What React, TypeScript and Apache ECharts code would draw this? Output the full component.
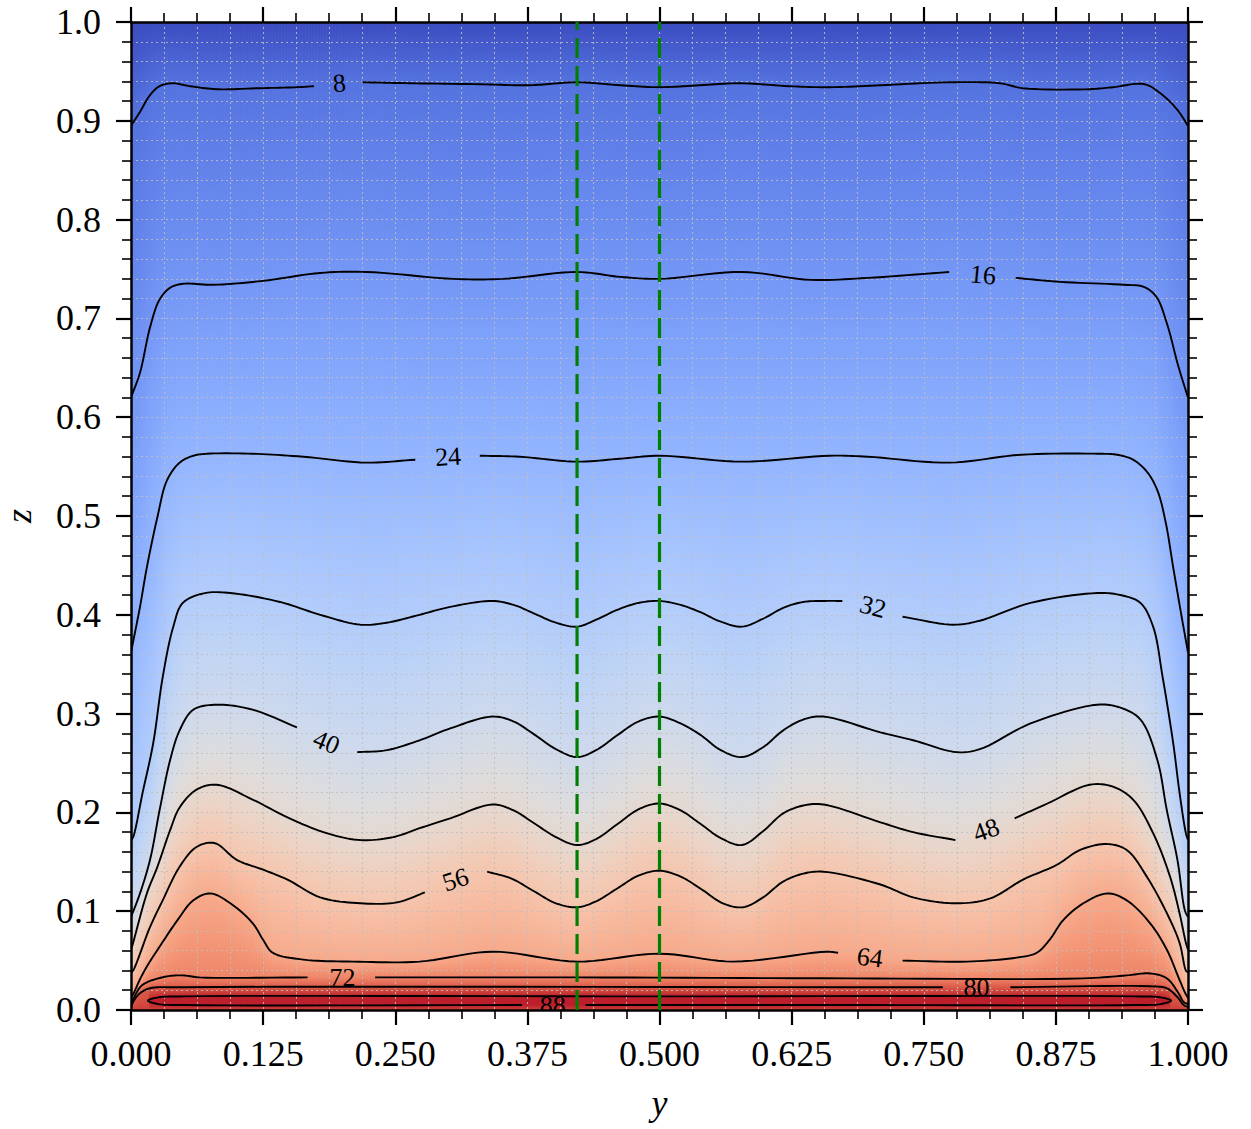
import React, { useEffect, useRef } from "react";
import * as echarts from "echarts";

// ---------------- data (y, z) ----------------
const LEVELS = [8, 16, 24, 32, 40, 48, 56, 64, 72, 80, 88];
const T_TOP = 0;
const T_BOTTOM = 84;
const VMAX = 90;

const c8 = [
  [[0, 0.895], [0.0085, 0.909], [0.018, 0.926], [0.027, 0.935], [0.039, 0.938], [0.056, 0.935], [0.081, 0.932], [0.122, 0.933], [0.157, 0.934], [0.173, 0.935]],
  [[0.219, 0.939], [0.264, 0.938], [0.33, 0.937], [0.377, 0.936], [0.422, 0.939], [0.463, 0.936], [0.5, 0.934], [0.538, 0.936], [0.576, 0.938], [0.623, 0.935], [0.661, 0.934], [0.709, 0.936], [0.775, 0.939], [0.822, 0.938], [0.844, 0.933], [0.907, 0.932], [0.929, 0.934], [0.959, 0.937], [0.976, 0.926], [0.99, 0.911], [1, 0.895]],
];
const c16 = [
  [[0, 0.62], [0.0085, 0.645], [0.018, 0.691], [0.027, 0.719], [0.037, 0.731], [0.049, 0.735], [0.078, 0.734], [0.125, 0.738], [0.179, 0.746], [0.223, 0.747], [0.305, 0.74], [0.352, 0.74], [0.422, 0.747], [0.463, 0.742], [0.5, 0.74], [0.578, 0.747], [0.643, 0.739], [0.697, 0.741], [0.774, 0.747]],
  [[0.837, 0.741], [0.879, 0.737], [0.94, 0.734], [0.958, 0.732], [0.97, 0.722], [0.98, 0.695], [0.991, 0.651], [1, 0.62]],
];
const c24 = [
  [[0, 0.362], [0.0085, 0.408], [0.015, 0.448], [0.025, 0.499], [0.034, 0.536], [0.046, 0.554], [0.059, 0.561], [0.072, 0.563], [0.115, 0.563], [0.163, 0.56], [0.223, 0.554], [0.269, 0.557]],
  [[0.33, 0.561], [0.368, 0.56], [0.422, 0.555], [0.463, 0.558], [0.5, 0.561], [0.578, 0.555], [0.661, 0.561], [0.697, 0.56], [0.774, 0.554], [0.842, 0.562], [0.915, 0.563], [0.933, 0.562], [0.948, 0.557], [0.961, 0.545], [0.971, 0.526], [0.979, 0.493], [0.986, 0.448], [0.994, 0.398], [1, 0.362]],
];
const c32 = [
  [[0, 0.172], [0.002, 0.175], [0.011, 0.22], [0.021, 0.27], [0.03, 0.337], [0.04, 0.388], [0.049, 0.412], [0.07, 0.422], [0.094, 0.422], [0.141, 0.413], [0.179, 0.4], [0.217, 0.39], [0.242, 0.392], [0.273, 0.4], [0.302, 0.408], [0.342, 0.414], [0.362, 0.41], [0.38, 0.402], [0.402, 0.392], [0.422, 0.388], [0.44, 0.395], [0.46, 0.405], [0.48, 0.412], [0.5, 0.414], [0.52, 0.41], [0.538, 0.403], [0.558, 0.393], [0.578, 0.388], [0.598, 0.396], [0.617, 0.407], [0.636, 0.413], [0.655, 0.414], [0.673, 0.414]],
  [[0.73, 0.398], [0.778, 0.39], [0.803, 0.394], [0.851, 0.412], [0.914, 0.422], [0.936, 0.42], [0.955, 0.412], [0.967, 0.388], [0.976, 0.337], [0.986, 0.27], [0.992, 0.22], [0.998, 0.179], [1, 0.172]],
];
const c40 = [
  [[0, 0.094], [0.0085, 0.118], [0.018, 0.152], [0.027, 0.202], [0.037, 0.253], [0.046, 0.283], [0.059, 0.304], [0.081, 0.309], [0.115, 0.304], [0.157, 0.286]],
  [[0.214, 0.261], [0.242, 0.263], [0.273, 0.273], [0.302, 0.285], [0.342, 0.297], [0.362, 0.292], [0.38, 0.28], [0.402, 0.264], [0.422, 0.256], [0.44, 0.263], [0.46, 0.278], [0.48, 0.292], [0.5, 0.297], [0.52, 0.29], [0.538, 0.279], [0.558, 0.263], [0.578, 0.256], [0.598, 0.266], [0.617, 0.283], [0.636, 0.294], [0.655, 0.297], [0.709, 0.281], [0.74, 0.273], [0.781, 0.261], [0.803, 0.264], [0.851, 0.29], [0.914, 0.309], [0.936, 0.306], [0.955, 0.294], [0.971, 0.253], [0.98, 0.202], [0.99, 0.152], [0.997, 0.101], [1, 0.094]],
];
const c48 = [
  [[0, 0.061], [0.002, 0.068], [0.015, 0.118], [0.025, 0.145], [0.037, 0.182], [0.046, 0.205], [0.062, 0.223], [0.081, 0.228], [0.115, 0.213], [0.148, 0.195], [0.185, 0.179], [0.217, 0.172], [0.248, 0.175], [0.273, 0.184], [0.302, 0.194], [0.342, 0.208], [0.362, 0.202], [0.38, 0.19], [0.402, 0.175], [0.422, 0.167], [0.44, 0.173], [0.46, 0.188], [0.48, 0.203], [0.5, 0.209], [0.52, 0.202], [0.538, 0.189], [0.558, 0.174], [0.578, 0.167], [0.598, 0.181], [0.617, 0.199], [0.636, 0.207], [0.655, 0.208], [0.709, 0.19], [0.74, 0.18], [0.78, 0.172]],
  [[0.836, 0.194], [0.867, 0.209], [0.907, 0.228], [0.929, 0.226], [0.948, 0.213], [0.967, 0.179], [0.983, 0.135], [0.992, 0.098], [0.998, 0.068], [1, 0.061]],
];
const c56 = [
  [[0, 0.038], [0.002, 0.04], [0.018, 0.084], [0.03, 0.111], [0.046, 0.145], [0.062, 0.165], [0.079, 0.169], [0.1, 0.152], [0.125, 0.142], [0.148, 0.132], [0.179, 0.114], [0.217, 0.108], [0.252, 0.109], [0.278, 0.119]],
  [[0.337, 0.14], [0.36, 0.133], [0.38, 0.121], [0.402, 0.108], [0.422, 0.104], [0.44, 0.11], [0.46, 0.123], [0.48, 0.136], [0.5, 0.141], [0.52, 0.135], [0.54, 0.122], [0.56, 0.108], [0.579, 0.104], [0.598, 0.114], [0.617, 0.13], [0.636, 0.138], [0.655, 0.14], [0.709, 0.127], [0.74, 0.114], [0.781, 0.108], [0.813, 0.113], [0.844, 0.132], [0.876, 0.147], [0.898, 0.162], [0.923, 0.168], [0.942, 0.162], [0.961, 0.135], [0.98, 0.098], [0.992, 0.068], [0.998, 0.04], [1, 0.038]],
];
const c64 = [
  [[0, 0.012], [0.003, 0.018], [0.008, 0.03], [0.015, 0.044], [0.027, 0.064], [0.044, 0.091], [0.059, 0.111], [0.075, 0.118], [0.094, 0.108], [0.115, 0.088], [0.125, 0.071], [0.134, 0.058], [0.163, 0.051], [0.21, 0.049], [0.273, 0.049], [0.342, 0.059], [0.422, 0.049], [0.5, 0.057], [0.57, 0.049], [0.658, 0.059], [0.669, 0.058]],
  [[0.73, 0.05], [0.791, 0.049], [0.838, 0.053], [0.857, 0.058], [0.869, 0.071], [0.882, 0.091], [0.901, 0.108], [0.924, 0.118], [0.942, 0.111], [0.964, 0.088], [0.98, 0.061], [0.991, 0.033], [0.997, 0.018], [1, 0.012]],
];
const c72 = [
  [[0, 0.006], [0.004, 0.015], [0.0085, 0.023], [0.015, 0.028], [0.034, 0.034], [0.049, 0.035], [0.065, 0.033], [0.167, 0.033]],
  [[0.231, 0.033], [0.422, 0.033], [0.68, 0.032], [0.901, 0.032], [0.942, 0.035], [0.964, 0.037], [0.98, 0.032], [0.991, 0.017], [0.996, 0.008], [1, 0.006]],
];
const c80 = [
  [[0, 0.003], [0.003, 0.01], [0.0085, 0.017], [0.018, 0.022], [0.049, 0.023], [0.768, 0.023]],
  [[0.832, 0.023], [0.964, 0.024], [0.98, 0.022], [0.99, 0.013], [0.996, 0.005], [1, 0.003]],
];
// closed loop; the gap for its label lies between the last and first point
const c88 = [
  [[0.43, 0.005], [0.7, 0.005], [0.95, 0.005], [0.974, 0.006], [0.984, 0.0095], [0.974, 0.0128], [0.95, 0.0138], [0.5, 0.0138], [0.05, 0.0138], [0.026, 0.0128], [0.016, 0.0095], [0.026, 0.006], [0.05, 0.005], [0.37, 0.005]],
];
const CONTOURS = [c8, c16, c24, c32, c40, c48, c56, c64, c72, c80, c88];
const CLOSED = [false, false, false, false, false, false, false, false, false, false, true];

// label positions (y, z) and rotation (rad)
const LABEL_POS = [
  [0.197, 0.938], [0.806, 0.744], [0.3, 0.56], [0.702, 0.408], [0.185, 0.271], [0.809, 0.182],
  [0.307, 0.132], [0.699, 0.053], [0.2, 0.033], [0.8, 0.023], [0.399, 0.005],
];
const LABEL_ROT = [0.08, -0.09, 0.06, -0.26, -0.39, 0.35, 0.31, -0.12, 0, 0, 0];

const GUIDE_Y = [0.422, 0.5];

const X_TICKS = [0, 0.125, 0.25, 0.375, 0.5, 0.625, 0.75, 0.875, 1];
const Z_TICKS = [0, 0.1, 0.2, 0.3, 0.4, 0.5, 0.6, 0.7, 0.8, 0.9, 1];

// coolwarm colour map (Moreland), 33 samples
const COOLWARM = [
  [59, 76, 192], [68, 90, 204], [77, 104, 215], [87, 117, 225], [98, 130, 234], [108, 142, 241], [119, 154, 247], [130, 165, 251],
  [141, 176, 254], [152, 185, 255], [163, 194, 255], [174, 201, 253], [184, 208, 249], [194, 213, 244], [204, 217, 238], [213, 219, 230],
  [221, 221, 221], [229, 216, 209], [236, 211, 197], [241, 204, 184], [245, 196, 172], [247, 187, 160], [247, 177, 148], [247, 166, 135],
  [244, 154, 123], [241, 141, 111], [236, 127, 99], [229, 112, 88], [222, 96, 77], [213, 80, 66], [203, 62, 56], [192, 40, 47], [180, 4, 38],
];

function cmap(T: number): string {
  let t = T / VMAX;
  t = Math.max(0, Math.min(1, t));
  const f = t * (COOLWARM.length - 1);
  const i = Math.min(COOLWARM.length - 2, Math.floor(f));
  const u = f - i;
  const a = COOLWARM[i], b = COOLWARM[i + 1];
  const c = [0, 1, 2].map((k) => Math.round(a[k] + (b[k] - a[k]) * u));
  return `rgb(${c[0]},${c[1]},${c[2]})`;
}

const NCOL = 352;

function columnStops(yc: number) {
  const pts: number[][] = [[1, T_TOP], [0, T_BOTTOM]];
  CONTOURS.forEach((segs, ci) => {
    const poly = ([] as number[][]).concat(...segs);
    const n = CLOSED[ci] ? poly.length : poly.length - 1;
    for (let k = 0; k < n; k++) {
      const a = poly[k], b = poly[(k + 1) % poly.length];
      if (a[0] === b[0]) continue;
      const lo = Math.min(a[0], b[0]), hi = Math.max(a[0], b[0]);
      if (yc < lo || yc >= hi) continue;
      const t = (yc - a[0]) / (b[0] - a[0]);
      pts.push([a[1] + t * (b[1] - a[1]), LEVELS[ci]]);
    }
  });
  pts.sort((p, q) => q[0] - p[0]);
  const stops: { offset: number; color: string }[] = [];
  const SUB = 3;
  for (let k = 0; k < pts.length - 1; k++) {
    const [z1, T1] = pts[k];
    const [z2, T2] = pts[k + 1];
    for (let s = 0; s < SUB; s++) {
      const u = s / SUB;
      stops.push({ offset: Math.min(1, Math.max(0, 1 - (z1 + (z2 - z1) * u))), color: cmap(T1 + (T2 - T1) * u) });
    }
  }
  const last = pts[pts.length - 1];
  stops.push({ offset: 1 - last[0], color: cmap(last[1]) });
  return stops;
}

// centripetal Catmull-Rom through pixel points (rendering only)
function smoothPath(P: number[][], steps = 10): number[][] {
  if (P.length < 3) return P;
  const out: number[][] = [];
  const dist = (a: number[], b: number[]) => Math.max(1e-4, Math.pow(Math.hypot(b[0] - a[0], b[1] - a[1]), 0.5));
  for (let i = 0; i < P.length - 1; i++) {
    const p1 = P[i], p2 = P[i + 1];
    const p0 = i > 0 ? P[i - 1] : [2 * p1[0] - p2[0], 2 * p1[1] - p2[1]];
    const p3 = i + 2 < P.length ? P[i + 2] : [2 * p2[0] - p1[0], 2 * p2[1] - p1[1]];
    const t0 = 0, t1 = t0 + dist(p0, p1), t2 = t1 + dist(p1, p2), t3 = t2 + dist(p2, p3);
    for (let s = 0; s < steps; s++) {
      const t = t1 + ((t2 - t1) * s) / steps;
      const lerp = (a: number[], b: number[], ta: number, tb: number) => {
        const u = (t - ta) / (tb - ta);
        return [a[0] + (b[0] - a[0]) * u, a[1] + (b[1] - a[1]) * u];
      };
      const A1 = lerp(p0, p1, t0, t1), A2 = lerp(p1, p2, t1, t2), A3 = lerp(p2, p3, t2, t3);
      const B1 = lerp(A1, A2, t0, t2), B2 = lerp(A2, A3, t1, t3);
      out.push(lerp(B1, B2, t1, t2));
    }
  }
  out.push(P[P.length - 1]);
  return out;
}

const FONT = '"Liberation Serif", "DejaVu Serif", serif';

export default function App() {
  const ref = useRef<HTMLDivElement>(null);
  useEffect(() => {
    document.body.style.margin = "0";
    if (!ref.current) return;
    const chart = echarts.init(ref.current, undefined, { renderer: "svg" });

    const gradients = Array.from({ length: NCOL }, (_, i) =>
      new echarts.graphic.LinearGradient(0, 0, 0, 1, columnStops((i + 0.5) / NCOL))
    );
    const colData = Array.from({ length: NCOL }, (_, i) => [i / NCOL, (i + 1) / NCOL, i]);

    const segments: number[][][] = [];
    CONTOURS.forEach((segs) => segs.forEach((s) => segments.push(s)));

    const tickStyle = { show: true, inside: false, length: 15, lineStyle: { color: "#000", width: 2.2 } };
    const minorTick = (n: number) => ({ show: true, splitNumber: n, length: 9, lineStyle: { color: "#000", width: 1.6 } });
    const gridLine = { show: true, lineStyle: { color: "rgba(190,190,190,0.85)", width: 1.1, type: [2, 3] as any } };
    const axisLine = { show: true, onZero: false, lineStyle: { color: "#000", width: 2.5 } };

    const option: any = {
      animation: false,
      grid: { left: 131, right: 63, top: 22, bottom: 119, containLabel: false, outerBoundsMode: "none" },
      xAxis: [
        {
          type: "value", position: "bottom", min: 0, max: 1, interval: 0.125,
          axisLine, axisTick: tickStyle, minorTick: minorTick(4),
          splitLine: gridLine, minorSplitLine: gridLine,
          axisLabel: {
            show: true, margin: 26, color: "#000", fontFamily: FONT, fontSize: 36,
            formatter: (v: number) => (X_TICKS.some((t) => Math.abs(t - v) < 1e-9) ? v.toFixed(3) : ""),
          },
          name: "y", nameLocation: "middle", nameGap: 75,
          nameTextStyle: { fontFamily: FONT, fontSize: 36, fontStyle: "italic", color: "#000" },
        },
        {
          type: "value", position: "top", min: 0, max: 1, interval: 0.125,
          axisLine, axisTick: tickStyle, minorTick: minorTick(4),
          splitLine: { show: false }, axisLabel: { show: false },
        },
      ],
      yAxis: [
        {
          type: "value", position: "left", min: 0, max: 1, interval: 0.1,
          axisLine, axisTick: tickStyle, minorTick: minorTick(5),
          splitLine: gridLine, minorSplitLine: gridLine,
          axisLabel: {
            show: true, margin: 30, color: "#000", fontFamily: FONT, fontSize: 36,
            formatter: (v: number) => (Z_TICKS.some((t) => Math.abs(t - v) < 1e-9) ? v.toFixed(1) : ""),
          },
          name: "z", nameLocation: "middle", nameGap: 94, nameRotate: 90,
          nameTextStyle: { fontFamily: FONT, fontSize: 36, fontStyle: "italic", color: "#000" },
        },
        {
          type: "value", position: "right", min: 0, max: 1, interval: 0.1,
          axisLine, axisTick: tickStyle, minorTick: minorTick(5),
          splitLine: { show: false }, axisLabel: { show: false },
        },
      ],
      series: [
        {
          type: "custom",
          silent: true,
          z: -1,
          clip: true,
          data: colData,
          encode: { x: [0, 1], y: [] },
          renderItem: (params: any, api: any) => {
            const i = api.value(2);
            const p0 = api.coord([api.value(0), 1]);
            const p1 = api.coord([api.value(1), 0]);
            return {
              type: "rect",
              shape: { x: p0[0], y: p0[1], width: p1[0] - p0[0] + 0.7, height: p1[1] - p0[1] },
              style: { fill: gradients[i], stroke: null },
            };
          },
        },
        {
          type: "custom",
          silent: true,
          z: 3,
          clip: true,
          data: segments.map((s, i) => [s[0][0], s[0][1], i]),
          renderItem: (params: any, api: any) => {
            const seg = segments[api.value(2)];
            const px = seg.map((p) => api.coord(p));
            return {
              type: "polyline",
              shape: { points: smoothPath(px) },
              style: { stroke: "#000", lineWidth: 1.9, fill: null, lineJoin: "round" },
            };
          },
        },
        ...GUIDE_Y.map((g) => ({
          type: "line",
          data: [[g, 0], [g, 1]],
          symbol: "none",
          silent: true,
          z: 4,
          lineStyle: { color: "#008000", width: 3.2, type: [20, 8] },
        })),
        {
          type: "custom",
          silent: true,
          z: 5,
          clip: true,
          data: LABEL_POS.map((p, i) => [p[0], p[1], i]),
          renderItem: (params: any, api: any) => {
            const i = api.value(2);
            const p = api.coord([api.value(0), api.value(1)]);
            return {
              type: "text",
              x: p[0], y: p[1], rotation: LABEL_ROT[i],
              style: {
                text: String(LEVELS[i]), fill: "#000", font: `26px ${FONT}`,
                align: "center", verticalAlign: "middle",
              },
            };
          },
        },
      ],
    };
    chart.setOption(option);
    return () => chart.dispose();
  }, []);
  return <div ref={ref} style={{ width: 1251, height: 1129 }} />;
}
